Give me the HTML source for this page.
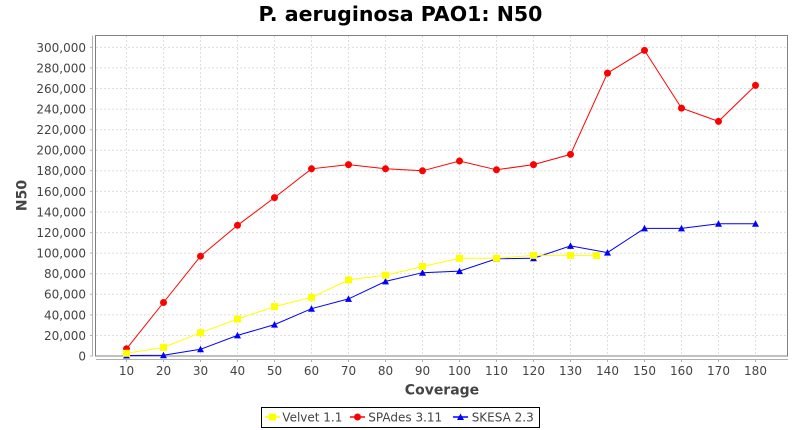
<!DOCTYPE html>
<html>
<head>
<meta charset="utf-8">
<style>
html,body{margin:0;padding:0;background:#fff;}
svg{display:block;}
text{font-family:"DejaVu Sans","Liberation Sans",sans-serif;}
</style>
</head>
<body>
<svg width="800" height="430" viewBox="0 0 800 430" xmlns="http://www.w3.org/2000/svg">
<rect x="0" y="0" width="800" height="430" fill="#fff"/>
<text x="400.5" y="21" font-size="20.5" font-weight="bold" text-anchor="middle" fill="#000">P. aeruginosa PAO1: N50</text>

<!-- plot background -->
<rect x="96" y="35.5" width="692" height="320.5" fill="#fff"/>

<!-- gridlines -->
<g stroke="#dedede" stroke-width="1" stroke-dasharray="2,2" fill="none">
<path d="M96 335.5H788M96 314.9H788M96 294.3H788M96 273.7H788M96 253.1H788M96 232.6H788M96 212H788M96 191.4H788M96 170.8H788M96 150.2H788M96 129.7H788M96 109.1H788M96 88.5H788M96 67.9H788M96 47.4H788"/>
<path d="M126.5 36V356M163.5 36V356M200.5 36V356M237.5 36V356M274.5 36V356M311.5 36V356M348.5 36V356M385.5 36V356M422.5 36V356M459.5 36V356M496.5 36V356M533.5 36V356M570.5 36V356M607.5 36V356M644.5 36V356M681.5 36V356M718.5 36V356M755.5 36V356"/>
</g>

<!-- plot frame -->
<rect x="95.5" y="35.5" width="692" height="320.5" fill="none" stroke="#808080" stroke-width="1"/>

<!-- axes -->
<g stroke="#b0b0b0" stroke-width="1" fill="none">
<path d="M92.5 35.5V356.5"/>
<path d="M96 359.5H788"/>
<path d="M90 356H92.5M90 335.5H92.5M90 314.9H92.5M90 294.3H92.5M90 273.7H92.5M90 253.1H92.5M90 232.6H92.5M90 212H92.5M90 191.4H92.5M90 170.8H92.5M90 150.2H92.5M90 129.7H92.5M90 109.1H92.5M90 88.5H92.5M90 67.9H92.5M90 47.4H92.5"/>
<path d="M126.5 359.5V362M163.5 359.5V362M200.5 359.5V362M237.5 359.5V362M274.5 359.5V362M311.5 359.5V362M348.5 359.5V362M385.5 359.5V362M422.5 359.5V362M459.5 359.5V362M496.5 359.5V362M533.5 359.5V362M570.5 359.5V362M607.5 359.5V362M644.5 359.5V362M681.5 359.5V362M718.5 359.5V362M755.5 359.5V362"/>
</g>

<!-- y tick labels -->
<g font-size="12" fill="#444" text-anchor="end">
<text x="86" y="360.4">0</text>
<text x="86" y="339.9">20,000</text>
<text x="86" y="319.3">40,000</text>
<text x="86" y="298.7">60,000</text>
<text x="86" y="278.1">80,000</text>
<text x="86" y="257.5">100,000</text>
<text x="86" y="237">120,000</text>
<text x="86" y="216.4">140,000</text>
<text x="86" y="195.8">160,000</text>
<text x="86" y="175.2">180,000</text>
<text x="86" y="154.6">200,000</text>
<text x="86" y="134.1">220,000</text>
<text x="86" y="113.5">240,000</text>
<text x="86" y="92.9">260,000</text>
<text x="86" y="72.3">280,000</text>
<text x="86" y="51.8">300,000</text>
</g>

<!-- x tick labels -->
<g font-size="12" fill="#444" text-anchor="middle">
<text x="126.5" y="375">10</text>
<text x="163.5" y="375">20</text>
<text x="200.5" y="375">30</text>
<text x="237.5" y="375">40</text>
<text x="274.5" y="375">50</text>
<text x="311.5" y="375">60</text>
<text x="348.5" y="375">70</text>
<text x="385.5" y="375">80</text>
<text x="422.5" y="375">90</text>
<text x="459.5" y="375">100</text>
<text x="496.5" y="375">110</text>
<text x="533.5" y="375">120</text>
<text x="570.5" y="375">130</text>
<text x="607.5" y="375">140</text>
<text x="644.5" y="375">150</text>
<text x="681.5" y="375">160</text>
<text x="718.5" y="375">170</text>
<text x="755.5" y="375">180</text>
</g>

<!-- axis labels -->
<text x="442" y="394.3" font-size="14" font-weight="bold" fill="#444" text-anchor="middle">Coverage</text>
<text x="26.5" y="195.5" font-size="14" font-weight="bold" fill="#444" text-anchor="middle" transform="rotate(-90 26.5 195.5)">N50</text>

<!-- SKESA (blue) -->
<polyline fill="none" stroke="#0000ff" stroke-width="1" points="126.5,355.5 163.5,355.3 200.5,349.3 237.5,335.4 274.5,324.6 311.5,308.7 348.5,298.9 385.5,281.4 422.5,272.7 459.5,271.1 496.5,258.8 533.5,258.3 570.5,245.9 607.5,252.6 644.5,228.4 681.5,228.4 718.5,223.8 755.5,223.8"/>
<g fill="#0000ff">
<path d="M126.5 352L130 358.5H123Z"/>
<path d="M163.5 351.8L167 358.3H160Z"/>
<path d="M200.5 345.8L204 352.3H197Z"/>
<path d="M237.5 331.9L241 338.4H234Z"/>
<path d="M274.5 321.1L278 327.6H271Z"/>
<path d="M311.5 305.2L315 311.7H308Z"/>
<path d="M348.5 295.4L352 301.9H345Z"/>
<path d="M385.5 277.9L389 284.4H382Z"/>
<path d="M422.5 269.2L426 275.7H419Z"/>
<path d="M459.5 267.6L463 274.1H456Z"/>
<path d="M496.5 255.3L500 261.8H493Z"/>
<path d="M533.5 254.8L537 261.3H530Z"/>
<path d="M570.5 242.4L574 248.9H567Z"/>
<path d="M607.5 249.1L611 255.6H604Z"/>
<path d="M644.5 224.9L648 231.4H641Z"/>
<path d="M681.5 224.9L685 231.4H678Z"/>
<path d="M718.5 220.3L722 226.8H715Z"/>
<path d="M755.5 220.3L759 226.8H752Z"/>
</g>

<!-- SPAdes (red) -->
<polyline fill="none" stroke="#ff0000" stroke-width="1" points="126.5,348.8 163.5,302.5 200.5,256.2 237.5,225.3 274.5,197.6 311.5,168.8 348.5,164.6 385.5,168.8 422.5,170.8 459.5,161 496.5,169.8 533.5,164.6 570.5,154.4 607.5,73.1 644.5,50.4 681.5,108.1 718.5,121.4 755.5,85.4"/>
<g fill="#ff0000">
<circle cx="126.5" cy="348.8" r="3.5"/>
<circle cx="163.5" cy="302.5" r="3.5"/>
<circle cx="200.5" cy="256.2" r="3.5"/>
<circle cx="237.5" cy="225.3" r="3.5"/>
<circle cx="274.5" cy="197.6" r="3.5"/>
<circle cx="311.5" cy="168.8" r="3.5"/>
<circle cx="348.5" cy="164.6" r="3.5"/>
<circle cx="385.5" cy="168.8" r="3.5"/>
<circle cx="422.5" cy="170.8" r="3.5"/>
<circle cx="459.5" cy="161" r="3.5"/>
<circle cx="496.5" cy="169.8" r="3.5"/>
<circle cx="533.5" cy="164.6" r="3.5"/>
<circle cx="570.5" cy="154.4" r="3.5"/>
<circle cx="607.5" cy="73.1" r="3.5"/>
<circle cx="644.5" cy="50.4" r="3.5"/>
<circle cx="681.5" cy="108.1" r="3.5"/>
<circle cx="718.5" cy="121.4" r="3.5"/>
<circle cx="755.5" cy="85.4" r="3.5"/>
</g>

<!-- Velvet (yellow) -->
<polyline fill="none" stroke="#ffff00" stroke-width="1" points="126.5,353.3 163.5,347.4 200.5,332.7 237.5,319 274.5,306.6 311.5,297.4 348.5,279.9 385.5,275.2 422.5,266.5 459.5,258.3 496.5,258.3 533.5,255.4 570.5,255.4 596.4,255.4"/>
<g fill="#ffff00">
<rect x="123" y="349.8" width="7" height="7"/>
<rect x="160" y="343.9" width="7" height="7"/>
<rect x="197" y="329.2" width="7" height="7"/>
<rect x="234" y="315.5" width="7" height="7"/>
<rect x="271" y="303.1" width="7" height="7"/>
<rect x="308" y="293.9" width="7" height="7"/>
<rect x="345" y="276.4" width="7" height="7"/>
<rect x="382" y="271.7" width="7" height="7"/>
<rect x="419" y="263" width="7" height="7"/>
<rect x="456" y="254.8" width="7" height="7"/>
<rect x="493" y="254.8" width="7" height="7"/>
<rect x="530" y="251.9" width="7" height="7"/>
<rect x="567" y="251.9" width="7" height="7"/>
<rect x="592.9" y="251.9" width="7" height="7"/>
</g>

<!-- legend -->
<rect x="261.5" y="407.5" width="278" height="20" fill="#fff" stroke="#000" stroke-width="1"/>
<line x1="265" y1="417" x2="280" y2="417" stroke="#ffff00" stroke-width="1.5"/>
<rect x="269" y="413.5" width="7" height="7" fill="#ffff00"/>
<text x="282.3" y="421.5" font-size="12" fill="#444">Velvet 1.1</text>
<line x1="350" y1="417" x2="365" y2="417" stroke="#ff0000" stroke-width="1.5"/>
<circle cx="357.5" cy="417" r="3.5" fill="#ff0000"/>
<text x="368.3" y="421.5" font-size="12" fill="#444">SPAdes 3.11</text>
<line x1="453" y1="417" x2="468" y2="417" stroke="#0000ff" stroke-width="1.5"/>
<path d="M460.5 413.5L464 420H457Z" fill="#0000ff"/>
<text x="471.7" y="421.5" font-size="12" fill="#444">SKESA 2.3</text>
</svg>
</body>
</html>
